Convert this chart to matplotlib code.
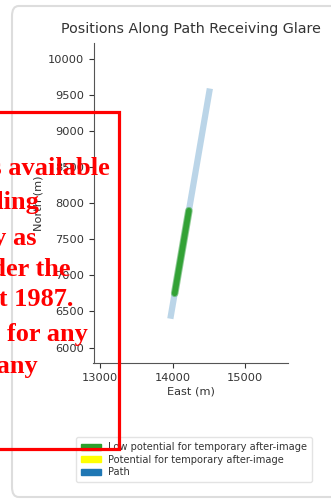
import matplotlib
matplotlib.use("Agg")
import matplotlib.pyplot as plt
from matplotlib.patches import Patch, FancyBboxPatch, Rectangle

# ---- data ----
path_east = [13970, 14515]
path_north = [6400, 9590]
glare_east = [14030, 14226]
glare_north = [6752, 7897]
x_ticks = [13000, 14000, 15000]
y_ticks = [6000, 6500, 7000, 7500, 8000, 8500, 9000, 9500, 10000]
legend_labels = ["Low potential for temporary after-image",
                 "Potential for temporary after-image",
                 "Path"]
legend_colors = ["#2ca02c", "#ffff00", "#1f77b4"]
overlay_lines = ["is available", "pending", "only as", "under the",
                 "Act 1987.", "used for any", "in any"]

W, H = 331, 500
fig = plt.figure(figsize=(W / 100, H / 100), dpi=100)

# card border
card = FancyBboxPatch((12 / W, 3 / H), 400 / W, (494 - 3) / H,
                      boxstyle="round,pad=0,rounding_size=0.02",
                      transform=fig.transFigure, fill=False,
                      edgecolor="#dddddd", linewidth=1.5, zorder=0)
fig.patches.append(card)

ax = fig.add_axes([93.5 / W, 1 - 363 / H, (288 - 93.5) / W, (363 - 43) / H])
ax.plot(path_east, path_north, color="#1f77b4", alpha=0.3, lw=4.5,
        solid_capstyle="butt")
ax.plot(glare_east, glare_north, color="#2ca02c", alpha=0.5, lw=5.5,
        solid_capstyle="round")
ax.plot(glare_east, glare_north, color="#2ca02c", alpha=0.9, lw=4,
        solid_capstyle="round")

ax.set_xlim(12910, 15593)
ax.set_ylim(5786, 10221)
ax.set_xticks(x_ticks)
ax.set_yticks(y_ticks)
ax.tick_params(labelsize=8.2, colors="#333333", length=3.5, width=0.8)
for s in ["top", "right"]:
    ax.spines[s].set_visible(False)
for s in ["left", "bottom"]:
    ax.spines[s].set_color("#555555")
    ax.spines[s].set_linewidth(0.8)
ax.set_xlabel("East (m)", fontsize=8.2, color="#333333", labelpad=3)
ax.set_ylabel("North (m)", fontsize=8.2, color="#333333", labelpad=3)
ax.set_title("Positions Along Path Receiving Glare", fontsize=10.3,
             color="#333333", pad=7)

handles = [Patch(facecolor=c, edgecolor=c) for c in legend_colors]
fig.legend(handles, legend_labels, loc="lower left",
           bbox_to_anchor=(71 / W, 1 - 487 / H), fontsize=7.1,
           frameon=True, edgecolor="#dddddd", handlelength=2.0,
           handleheight=0.6, borderpad=0.5, labelspacing=0.25,
           handletextpad=0.8, labelcolor="#333333")

# red overlay box and text
rect = Rectangle((-20 / W, 1 - 449 / H), (119 + 20) / W, (449 - 112) / H,
                 transform=fig.transFigure, fill=False, edgecolor="#ff0000",
                 linewidth=2.3, zorder=10)
fig.patches.append(rect)
right_edges = [110, 40, 37, 70, 73, 88, 38]
centers = [168, 202, 238, 270, 300, 334, 367]
for txt, xr, yc in zip(overlay_lines, right_edges, centers):
    fig.text(xr / W, 1 - yc / H, txt, ha="right", va="center",
             fontsize=19, fontweight="bold", family="Liberation Serif",
             color="#ff0000", zorder=11)

fig.savefig("out.png", dpi=100)
